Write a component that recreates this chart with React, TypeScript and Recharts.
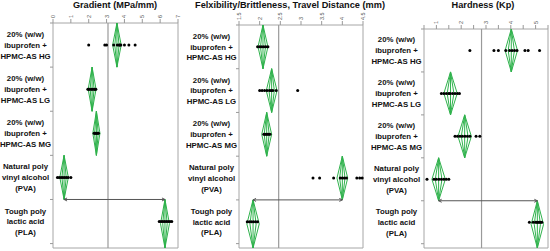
import { ScatterChart, Scatter, XAxis, YAxis, ReferenceLine, ReferenceArea } from "recharts";

// Row labels (top to bottom)
const categories = [
  ["20% (w/w)", "ibuprofen +", "HPMC-AS HG"],
  ["20% (w/w)", "ibuprofen +", "HPMC-AS LG"],
  ["20% (w/w)", "ibuprofen +", "HPMC-AS MG"],
  ["Natural poly", "vinyl alcohol", "(PVA)"],
  ["Tough poly", "lactic acid", "(PLA)"],
];

// Gradient (MPa/mm)
const gradientHG = [2.0, 2.9, 3.0, 3.4, 3.6, 3.7, 3.75, 3.8, 4.0, 4.25, 4.6];
const gradientLG = [1.95, 2.0, 2.05, 2.15, 2.2, 2.3, 2.35, 2.4];
const gradientMG = [2.3, 2.35, 2.4, 2.45, 2.5, 2.55];
const gradientPVA = [0.25, 0.35, 0.45, 0.55, 0.65, 0.75, 0.85, 1.0];
const gradientPLA = [5.95, 6.05, 6.15, 6.25, 6.35, 6.45, 6.55, 6.65];
const gradientMeans = [3.58, 2.19, 2.43, 0.62, 6.27];
const gradientCI = [0.24, 0.22, 0.2, 0.24, 0.25];
const gradientGrandMean = 3.08;
const gradientTicks = [0, 1, 2, 3, 4, 5, 6, 7];
const gradientTickLabels = ["0", "1", "2", "3", "4", "5", "6", "7"];

// Flexibility / brittleness, travel distance (mm)
const flexHG = [1.95, 2.0, 2.05, 2.1, 2.15, 2.2];
const flexLG = [2.0, 2.06, 2.12, 2.18, 2.24, 2.28, 2.32, 2.4, 2.92];
const flexMG = [2.1, 2.13, 2.16, 2.19, 2.22, 2.25];
const flexPVA = [3.29, 3.45, 3.79, 3.95, 4.0, 4.05, 4.1, 4.35, 4.42, 4.48];
const flexPLA = [1.7, 1.75, 1.8, 1.85, 1.9, 1.95];
const flexMeans = [2.08, 2.29, 2.17, 4.0, 1.84];
const flexCI = [0.12, 0.13, 0.12, 0.13, 0.15];
const flexGrandMean = 2.46;
const flexTicks = [1.5, 2, 2.5, 3, 3.5, 4, 4.5];
const flexTickLabels = ["1.5", "2", "2.5", "3", "3.5", "4", "4.5"];

// Hardness (Kp)
const hardHG = [2.35, 3.32, 3.5, 3.8, 3.95, 4.05, 4.15, 4.25, 4.57, 4.7, 5.16];
const hardLG = [1.2, 1.3, 1.4, 1.5, 1.55, 1.65, 1.75, 1.85, 1.93];
const hardMG = [1.75, 1.85, 1.95, 2.05, 2.15, 2.25, 2.35, 2.6, 2.75];
const hardPVA = [0.62, 0.9, 1.0, 1.1, 1.2, 1.3, 1.4, 1.5];
const hardPLA = [4.75, 4.9, 5.0, 5.05, 5.1, 5.15, 5.2, 5.25];
const hardMeans = [4.02, 1.57, 2.14, 1.09, 5.07];
const hardCI = [0.25, 0.27, 0.27, 0.27, 0.25];
const hardGrandMean = 2.82;
const hardTicks = [0.5, 1, 1.5, 2, 2.5, 3, 3.5, 4, 4.5, 5, 5.5];
const hardTickLabels = ["", "1", "", "2", "", "3", "", "4", "", "5", ""];

const GREEN = "#2fb24c";
const FONT = "'Liberation Sans', Arial, sans-serif";
const Y_MAX = 5.1;
const catTicks = [0, 0.5, 1, 1.5, 2, 2.5, 3, 3.5, 4, 4.5, 5];

type Panel = {
  title: string;
  rows: number[][];
  means: number[];
  ci: number[];
  grandMean: number;
  ticks: number[];
  tickLabels: string[];
  domain: [number, number];
  left: number;
  width: number;
  rightPad: number;
  axisHeight: number;
  titleX: number;
};

const panels: Panel[] = [
  {
    title: "Gradient (MPa/mm)",
    rows: [gradientHG, gradientLG, gradientMG, gradientPVA, gradientPLA],
    means: gradientMeans,
    ci: gradientCI,
    grandMean: gradientGrandMean,
    ticks: gradientTicks,
    tickLabels: gradientTickLabels,
    domain: [0, 7],
    left: 0,
    width: 183,
    rightPad: 5,
    axisHeight: 23,
    titleX: 115,
  },
  {
    title: "Felxibility/Brittleness, Travel Distance (mm)",
    rows: [flexHG, flexLG, flexMG, flexPVA, flexPLA],
    means: flexMeans,
    ci: flexCI,
    grandMean: flexGrandMean,
    ticks: flexTicks,
    tickLabels: flexTickLabels,
    domain: [1.5, 4.5],
    left: 186,
    width: 182,
    rightPad: 5,
    axisHeight: 25,
    titleX: 290,
  },
  {
    title: "Hardness (Kp)",
    rows: [hardHG, hardLG, hardMG, hardPVA, hardPLA],
    means: hardMeans,
    ci: hardCI,
    grandMean: hardGrandMean,
    ticks: hardTicks,
    tickLabels: hardTickLabels,
    domain: [0.5, 5.5],
    left: 371,
    width: 179,
    rightPad: 2,
    axisHeight: 29,
    titleX: 483,
  },
];

// Category labels + boundary tick marks on the left axis
const CatTick = (props: any) => {
  const { x, y, payload } = props;
  const v = payload.value;
  if (Number.isInteger(v)) {
    return <line x1={x - 3} x2={x} y1={y} y2={y} stroke="#999" />;
  }
  const lines = categories[Math.floor(v)];
  const cx = x - 27.5;
  return (
    <text x={cx} y={y} textAnchor="middle" fontSize={7.8} fontWeight="bold" fontFamily={FONT} fill="#111">
      {lines.map((l, k) => (
        <tspan key={k} x={cx} dy={k === 0 ? -8 : 10.8}>
          {l}
        </tspan>
      ))}
    </text>
  );
};

// Double-headed arrow between the PVA and PLA means
const ArrowShape = (p: any) => {
  const { x1, y1, x2, y2 } = p;
  const d = x2 > x1 ? 1 : -1;
  return (
    <g stroke="#555" strokeWidth={1} fill="none">
      <line x1={x1} y1={y1} x2={x2} y2={y2} />
      <path d={`M${x1 + 3 * d},${y1 - 1.5} L${x1},${y1} L${x1 + 3 * d},${y1 + 1.5}`} />
      <path d={`M${x2 - 3 * d},${y2 - 1.5} L${x2},${y2} L${x2 - 3 * d},${y2 + 1.5}`} />
    </g>
  );
};

const diamondSegments = (m: number, c: number, top: number, bottom: number) => {
  const mid = (top + bottom) / 2;
  const segs: { x: number; y: number }[][] = [];
  [c, c * 0.5].forEach((w) => {
    segs.push([{ x: m, y: top }, { x: m + w, y: mid }]);
    segs.push([{ x: m + w, y: mid }, { x: m, y: bottom }]);
    segs.push([{ x: m, y: bottom }, { x: m - w, y: mid }]);
    segs.push([{ x: m - w, y: mid }, { x: m, y: top }]);
  });
  segs.push([{ x: m, y: top }, { x: m, y: bottom }]);
  return segs;
};

const PanelChart = ({ p }: { p: Panel }) => {
  const dots = p.rows.flatMap((vals, i) => vals.map((v) => ({ x: v, y: i + 0.5 })));
  return (
    <div style={{ position: "absolute", left: p.left, top: 0 }}>
      <ScatterChart width={p.width} height={251} margin={{ top: 0, right: p.rightPad, bottom: 3, left: 0 }}>
        <XAxis
          type="number"
          dataKey="x"
          orientation="top"
          domain={p.domain}
          ticks={p.ticks}
          interval={0}
          height={p.axisHeight}
          axisLine={false}
          tickSize={4}
          tickMargin={1}
          stroke="#999"
          tick={(t: any) => {
            const idx = p.ticks.indexOf(t.payload.value);
            const label = p.tickLabels[idx] ?? "";
            return (
              <text
                x={t.x}
                y={t.y}
                transform={`rotate(-90 ${t.x} ${t.y})`}
                textAnchor="start"
                dominantBaseline="central"
                fontSize={5.5}
                fontFamily={FONT}
                fill="#555"
              >
                {label}
              </text>
            );
          }}
        />
        <YAxis
          type="number"
          dataKey="y"
          domain={[0, Y_MAX]}
          reversed
          ticks={catTicks}
          interval={0}
          width={53}
          axisLine={false}
          tickLine={false}
          tickSize={0}
          tickMargin={0}
          tick={CatTick}
        />
        <ReferenceArea x1={p.domain[0]} x2={p.domain[1]} y1={0} y2={Y_MAX} fill="none" stroke="#a6a6a6" />
        <ReferenceLine x={p.grandMean} stroke="#9a9a9a" strokeWidth={1.2} />
        {p.means.map((m, i) =>
          diamondSegments(m, p.ci[i], i, i === 4 ? Y_MAX : i + 1).map((s, k) => (
            <ReferenceLine key={`d${i}-${k}`} segment={s} stroke={GREEN} strokeWidth={1} />
          ))
        )}
        <ReferenceLine
          segment={[
            { x: p.means[3], y: 4 },
            { x: p.means[4], y: 4 },
          ]}
          shape={ArrowShape}
        />
        <Scatter
          data={dots}
          isAnimationActive={false}
          shape={(s: any) => <circle cx={s.cx} cy={s.cy} r={1.5} fill="#000" />}
        />
      </ScatterChart>
    </div>
  );
};

export default function App() {
  return (
    <div
      style={{
        position: "absolute",
        left: 0,
        top: 0,
        width: 550,
        height: 251,
        background: "#fff",
        fontFamily: FONT,
        overflow: "hidden",
      }}
    >
      {panels.map((p) => (
        <PanelChart key={p.title} p={p} />
      ))}
      {panels.map((p) => (
        <div
          key={`t-${p.title}`}
          style={{
            position: "absolute",
            left: p.titleX - 120,
            width: 240,
            top: 0,
            textAlign: "center",
            fontSize: 9.2,
            fontWeight: "bold",
            whiteSpace: "nowrap",
            lineHeight: "11px",
            color: "#111",
          }}
        >
          {p.title}
        </div>
      ))}
    </div>
  );
}
